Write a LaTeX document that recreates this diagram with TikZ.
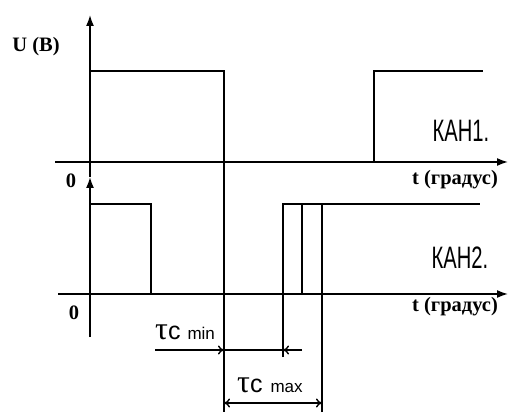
\documentclass[tikz,border=0pt]{standalone}
\usepackage{fontspec}
\setmainfont{Liberation Serif}
\newfontfamily\narrowsans[FakeStretch=0.65]{Liberation Sans}
\newfontfamily\plainsans{Liberation Sans}
\usetikzlibrary{arrows.meta}
\begin{document}
\begin{tikzpicture}[x=1pt,y=-1pt,
  axis/.style={line width=1.6pt,-{Latex[length=11pt,width=8pt]}},
  sig/.style={line width=1.6pt},
  dim/.style={line width=1.4pt,-{To[length=6pt,width=9pt]}},
  serlab/.style={inner sep=0pt,font=\bfseries\fontsize{20.5}{22}\selectfont},
  chlab/.style={inner sep=0pt,font=\narrowsans\fontsize{31}{34}\selectfont},
  taulab/.style={inner sep=0pt,anchor=base west}
]
\useasboundingbox (0,0) rectangle (509,414);
% axes
\draw[axis] (90,177) -- (90,15);
\draw[axis] (90,337) -- (90,177);
\draw[axis] (55,162) -- (508,162);
\draw[axis] (58,294) -- (508,294);
% channel 1 signal
\draw[sig] (90,71) -- (224,71) -- (224,412);
\draw[sig] (374,162) -- (374,71) -- (483,71);
% channel 2 signal
\draw[sig] (90,204) -- (151,204) -- (151,294);
\draw[sig] (283,357) -- (283,204) -- (480,204);
\draw[sig] (302,294) -- (302,204);
\draw[sig] (322,412) -- (322,204);
% dimensions
\draw[dim] (155,350) -- (224,350);
\draw[line width=1.4pt] (224,350) -- (283,350);
\draw[dim] (302,350) -- (283,350);
\draw[dim,{To[length=6pt,width=9pt]}-{To[length=6pt,width=9pt]}] (224,403) -- (322,403);
% labels
\node[serlab] (ub) at (36,47) {U (B)};
\node[serlab] (z1) at (71,181) {0};
\node[serlab] (z2) at (74,313) {0};
\node[serlab] (t1) at (455,180) {t (градус)};
\node[serlab] (t2) at (455,307) {t (градус)};
\node[chlab] (k1) at (461,131) {КАН1.};
\node[chlab] (k2) at (460,258) {КАН2.};
\node[taulab] (tmin) at (155,339) {\fontsize{32}{33}\selectfont τ\plainsans\fontsize{25}{26}\selectfont c\hspace{7pt}\fontsize{17}{18}\selectfont min};
\node[taulab] (tmax) at (237,392) {\fontsize{32}{33}\selectfont τ\plainsans\fontsize{25}{26}\selectfont c\hspace{8pt}\fontsize{17}{18}\selectfont max};
\end{tikzpicture}
\end{document}
